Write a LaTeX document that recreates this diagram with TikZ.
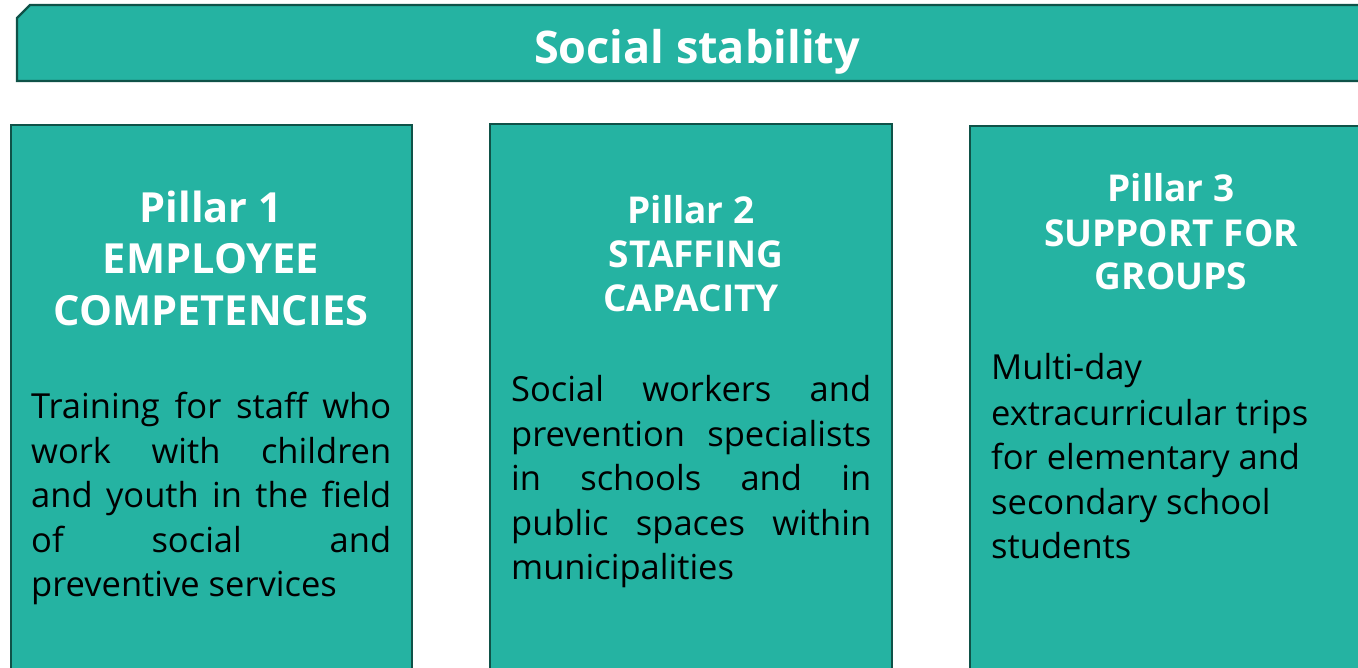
\documentclass[tikz,border=0pt]{standalone}
\usepackage{fontspec}
\setmainfont{Open Sans}
\definecolor{teal}{HTML}{25B3A2}
\definecolor{dteal}{HTML}{0F5248}
\begin{document}
\begin{tikzpicture}[x=1pt,y=-1pt,
  panel/.style={fill=teal,draw=dteal,line width=2.2pt},
  ttl/.style={font=\fontsize{45}{54}\selectfont\bfseries,text=white,anchor=base,inner sep=0pt},
  hdA/.style={font=\fontsize{41.5}{50}\selectfont\bfseries,text=white,anchor=base,inner sep=0pt},
  hdB/.style={font=\fontsize{37}{44}\selectfont\bfseries,text=white,anchor=base,inner sep=0pt},
  body/.style={font=\fontsize{34.5}{42}\selectfont,text=black,anchor=base west,inner sep=0pt}]
\useasboundingbox (0,0) rectangle (1358,668);
\clip (0,0) rectangle (1358,668);
% banner
\draw[panel] (17,81) -- (17,18) -- (30,5) -- (1370,5) -- (1370,81) -- cycle;
\node[ttl] (title) at (697,64) {Social stability};
% boxes
\draw[panel] (11,125) rectangle (412,690);
\draw[panel] (490,124) rectangle (892,690);
\draw[panel] (970,126) rectangle (1370,690);
% pillar 1
\node[hdA] (p1a) at (211,223) {Pillar 1};
\node[hdA] (p1b) at (211,274) {EMPLOYEE};
\node[hdA] (p1c) at (211,326) {COMPETENCIES};
\node[body] (b1a) at (31,418) {\makebox[360pt][s]{Training for staff who}};
\node[body] (b1b) at (31,463) {\makebox[360pt][s]{work with children}};
\node[body] (b1c) at (31,507) {\makebox[360pt][s]{and youth in the field}};
\node[body] (b1d) at (31,552) {\makebox[360pt][s]{of social and}};
\node[body] (b1e) at (31,596) {preventive services};
% pillar 2
\node[hdB] (p2a) at (691,224) {Pillar 2};
\node[hdB] (p2b) at (696,268) {STAFFING};
\node[hdB] (p2c) at (691,312) {CAPACITY};
\node[body] (b2a) at (511,401) {\makebox[360pt][s]{Social workers and}};
\node[body] (b2b) at (511,446) {\makebox[360pt][s]{prevention specialists}};
\node[body] (b2c) at (511,490) {\makebox[360pt][s]{in schools and in}};
\node[body] (b2d) at (511,535) {\makebox[360pt][s]{public spaces within}};
\node[body] (b2e) at (511,579) {municipalities};
% pillar 3
\node[hdB] (p3a) at (1171,202) {Pillar 3};
\node[hdB] (p3b) at (1171,247) {SUPPORT FOR};
\node[hdB] (p3c) at (1171,290) {GROUPS};
\node[body] (b3a) at (991,380) {Multi-day};
\node[body] (b3b) at (991,425) {extracurricular trips};
\node[body] (b3c) at (991,469) {for elementary and};
\node[body] (b3d) at (991,514) {secondary school};
\node[body] (b3e) at (991,558) {students};
\end{tikzpicture}
\end{document}
